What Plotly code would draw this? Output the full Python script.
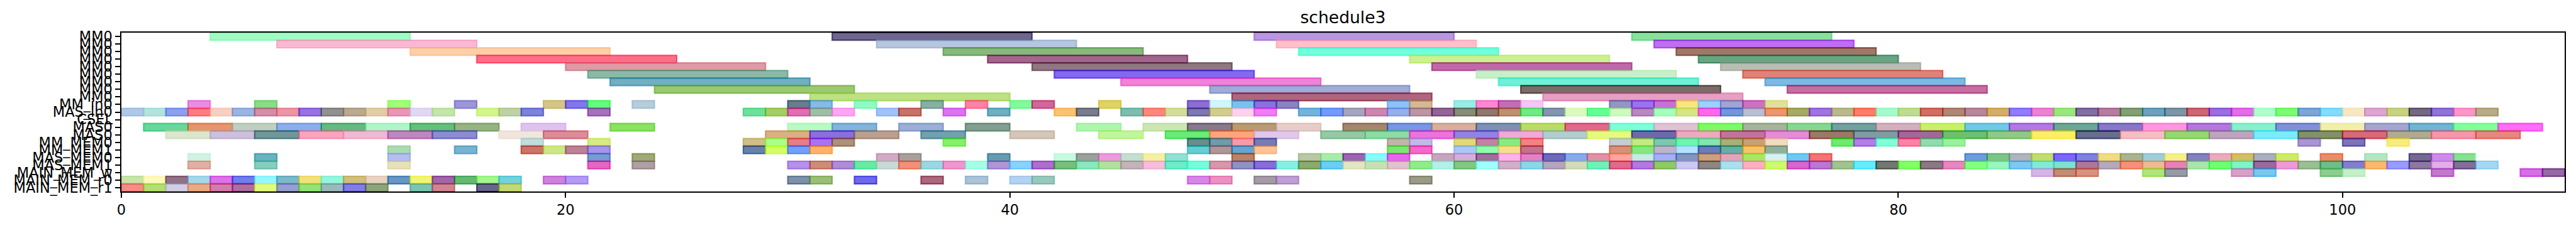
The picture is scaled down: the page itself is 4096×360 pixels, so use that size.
import plotly.graph_objects as go

TITLE = "schedule3"
ROW_LABELS = ["MM0"] * 9 + ["MM_in0", "MAS_in0", "CSEL", "MAS0", "MAS0", "MM_MEM0", "MM_MEM1",
                            "MAS_MEM0", "MAS_MEM1", "MAIN_MEM_w", "MAIN_MEM_r0", "MAIN_MEM_r1"]
X_TICKS = [0, 20, 40, 60, 80, 100]
X_MAX = 110
LONG_LEN = 9
MAS_LEN = 2
SLOT_LEN = 1

R0_START = [4, 32, 51, 68]
R0_COLOR = [(160,250,195),(110,100,140),(185,150,225),(135,225,155)]
R1_START = [7, 34, 52, 69]
R1_COLOR = [(250,185,210),(183,198,222),(255,192,203),(190,110,240)]
R2_START = [13, 37, 53, 70]
R2_COLOR = [(253,208,170),(135,185,125),(115,255,220),(160,120,105)]
R3_START = [16, 39, 58, 71]
R3_COLOR = [(255,110,135),(160,100,140),(205,240,145),(105,165,130)]
R4_START = [20, 41, 59, 72]
R4_COLOR = [(222,155,165),(143,120,130),(192,105,170),(185,190,180)]
R5_START = [21, 42, 61, 73]
R5_COLOR = [(140,185,165),(130,105,240),(200,240,200),(225,130,120)]
R6_START = [22, 45, 62, 74]
R6_COLOR = [(113,175,195),(240,130,215),(112,240,215),(125,185,225)]
R7_START = [24, 49, 63, 75]
R7_COLOR = [(155,200,115),(160,172,212),(122,108,105),(197,110,160)]
R8_START = [31, 50, 64]
R8_COLOR = [(190,225,130),(175,100,125),(230,160,195)]

R9_START = [3,6,12,15,19,20,21,23,30,31,33,36,38,40,41,44,48,49,50,51,52,57,58,60,61,62,63,67,68,69,70,71,72,73,74]
R9_COLOR = [(235,140,225),(138,220,135),(160,255,120),(155,150,215),(212,198,135),(130,118,235),(95,250,125),
            (182,205,218),(105,125,140),(135,185,235),(145,250,195),(135,175,165),(255,130,165),(130,250,155),
            (210,100,155),(225,210,100),(140,110,210),(210,245,250),(120,195,235),(135,115,220),(140,130,195),
            (140,195,245),(212,185,150),(155,235,230),(255,135,210),(195,110,180),(243,198,245),(145,150,195),
            (155,115,240),(195,115,210),(247,230,130),(155,210,250),(160,165,210),(205,115,190),(225,225,155)]

R10_START = [0,1,2,3,4,5,6,7,8,9,10,11,12,13,14,16,17,18,21,28,29,30,31,32,34,35,37,39,42,43,45,46,47,48,49,50,51,
             53,54,55,56,57,58,59,60,61,62,63,64,65,66,67,68,69,70,71,72,73,74,75,76,77,78,79,80,81,82,83,84,85,86,
             87,88,89,90,91,92,93,94,95,96,97,98,99,100,101,102,103,104,105,106]
R10_COLOR = [(175,200,230),(178,228,222),(140,160,240),(255,125,130),(248,208,195),(155,180,225),(215,140,170),
             (235,150,165),(150,115,225),(145,145,145),(185,170,145),(225,205,165),(235,150,185),(225,215,245),
             (195,230,170),(210,245,140),(190,210,165),(125,130,220),(170,110,190),(110,225,155),(165,205,100),
             (225,110,180),(160,190,165),(252,165,245),(160,195,250),(200,115,105),(220,115,240),(110,175,195),
             (250,195,115),(120,125,140),(125,190,175),(255,135,125),(212,220,155),(125,120,175),(210,205,140),
             (252,210,235),(240,125,245),(115,180,220),(115,155,250),(165,165,190),(205,135,175),(150,175,235),
             (185,150,165),(145,100,150),(135,140,120),(145,120,110),(190,145,115),(110,235,130),(130,150,175),
             (220,250,190),(100,255,145),(205,250,190),(185,135,195),(165,255,185),(212,230,135),(255,105,235),
             (115,150,220),(185,190,210),(235,150,110),(165,170,100),(160,115,225),(185,185,140),(255,125,105),
             (165,250,205),(190,220,145),(210,110,100),(175,135,115),(185,135,155),(210,175,100),(145,125,250),
             (235,130,210),(155,230,125),(130,110,160),(180,125,160),(130,160,115),(110,160,190),(125,150,165),
             (205,100,115),(155,110,225),(225,110,230),(175,255,205),(125,250,115),(125,165,215),(130,220,255),
             (245,232,195),(220,165,210),(200,210,130),(115,105,130),(145,115,215),(250,150,200),(183,172,135)]

R11_START = []
R11_COLOR = []

R12_START = [1,3,5,7,9,11,13,15,18,22,30,32,35,38,43,46,48,50,52,55,57,59,61,63,65,67,69,71,73,75,77,79,81,83,85,87,89,91,93,95,97,99,101,103,105,107]
R12_COLOR = [(105,215,155),(230,150,110),(192,208,190),(140,175,235),(100,185,130),(175,245,200),(100,190,125),
             (150,180,130),(222,195,240),(140,225,100),(185,250,195),(130,180,220),(155,175,215),(130,160,145),
             (175,245,175),(205,230,180),(135,120,140),(185,155,115),(230,205,200),(165,135,110),(120,150,225),
             (215,175,155),(125,145,180),(185,220,100),(225,105,140),(125,255,215),(222,195,210),(125,250,90),
             (165,180,155),(135,215,145),(115,160,160),(212,175,190),(200,240,105),(115,200,230),(180,120,225),
             (110,165,150),(135,120,200),(255,150,225),(180,120,220),(135,240,205),(130,145,215),(240,240,170),
             (165,165,210),(115,180,210),(130,255,155),(255,110,245)]

R13_START = [2,4,6,8,10,12,14,17,19,29,31,33,36,40,44,47,49,51,54,56,58,60,62,64,66,68,70,72,74,76,78,80,82,84,86,88,90,92,94,96,98,100,102,104,106]
R13_COLOR = [(220,230,205),(205,192,220),(115,150,155),(250,165,190),(240,185,210),(190,135,190),(140,140,210),
             (240,230,222),(220,140,150),(220,175,130),(140,110,220),(185,160,145),(115,160,175),(212,198,185),
             (195,245,155),(105,235,120),(255,165,125),(225,200,235),(150,200,165),(140,220,165),(235,115,220),
             (145,130,230),(240,170,215),(178,205,205),(230,250,130),(110,105,170),(235,170,190),(195,115,155),
             (230,140,215),(155,120,105),(130,155,160),(160,105,150),(110,190,115),(145,200,135),(250,240,100),
             (105,110,140),(245,190,195),(150,215,115),(190,165,190),(125,235,250),(130,145,105),(215,105,120),
             (175,170,145),(245,150,170),(230,135,130)]

R14_START = [18,21,28,29,30,31,32,37,48,49,50,51,57,58,60,61,62,63,67,68,69,70,71,72,73,74,77,78,79,80,81,82,98,100,102]
R14_COLOR = [(192,220,220),(215,235,130),(210,190,135),(170,255,140),(230,125,135),(170,115,240),(175,145,120),
             (135,240,105),(105,140,140),(110,155,175),(245,155,170),(115,125,180),(195,180,170),(195,185,230),
             (225,218,120),(195,130,160),(135,235,130),(245,130,130),(195,205,210),(195,235,130),(125,200,175),
             (110,245,175),(130,230,175),(170,175,120),(200,160,115),(240,220,190),(110,235,110),(180,125,230),
             (130,255,215),(255,130,165),(145,220,175),(155,240,155),(170,150,210),(125,115,185),(250,235,125)]

R15_START = [12,15,18,19,20,21,28,29,30,31,48,49,50,51,57,58,60,61,62,63,67,68,69,70,71,72,73,74]
R15_COLOR = [(170,220,180),(120,180,210),(205,115,105),(205,230,135),(190,130,150),(165,150,235),(100,130,170),
             (210,255,90),(115,160,250),(255,180,105),(95,205,210),(175,150,150),(100,165,205),(255,195,150),
             (125,230,115),(245,105,200),(170,200,245),(145,250,175),(245,222,145),(195,115,140),(215,145,120),
             (135,230,130),(190,180,200),(180,225,255),(105,125,185),(100,175,165),(245,195,110),(145,175,155)]

R16_START = [3,6,12,21,23,34,35,39,42,43,44,45,46,47,50,53,54,55,56,57,59,60,61,62,63,64,65,66,67,68,69,70,71,72,73,74,75,76,
             83,84,85,86,87,88,89,90,91,92,93,94,95,96,97,99,101,103,104,105,106]
R16_COLOR = [(210,243,225),(105,180,190),(180,190,240),(120,155,210),(160,170,120),(210,170,195),(170,160,155),
             (105,155,175),(200,250,225),(155,160,155),(235,155,220),(195,222,210),(245,240,165),(145,225,210),
             (185,130,105),(185,200,165),(170,235,170),(155,100,175),(135,250,250),(230,100,235),(200,165,190),
             (212,175,220),(160,110,155),(250,180,235),(225,130,195),(110,105,185),(135,170,235),(225,145,165),
             (255,165,155),(200,235,225),(165,175,245),(130,150,190),(205,160,125),(225,165,185),(170,230,100),
             (215,240,240),(110,200,240),(245,115,115),(110,155,220),(125,195,135),(175,180,190),(195,220,110),
             (125,100,250),(125,130,225),(240,220,130),(170,180,145),(160,205,215),(245,240,140),(130,130,190),
             (235,170,190),(210,190,100),(170,175,190),(205,235,100),(235,140,105),(180,230,195),(115,105,145),
             (205,140,235),(135,225,145),(252,254,252)]

R17_START = [3,6,12,21,23,30,31,32,33,34,35,36,37,38,39,40,41,42,43,44,45,46,47,48,49,50,51,52,53,54,55,56,57,58,59,60,61,62,
             63,64,65,66,67,68,69,70,71,72,73,74,75,76,77,78,79,80,81,82,83,84,85,86,87,88,89,90,91,92,93,94,95,96,97,98,99,
             100,101,102,103,104,105,106]
R17_COLOR = [(225,175,165),(135,205,190),(230,225,185),(230,100,195),(175,160,165),(180,145,235),(205,140,120),
             (175,140,215),(105,235,165),(200,218,212),(240,145,120),(155,215,225),(240,150,205),(165,255,230),
             (175,150,215),(135,210,255),(175,110,205),(120,190,125),(140,230,190),(175,225,160),(195,180,185),
             (245,190,220),(110,235,200),(115,255,220),(215,150,170),(145,145,195),(135,110,215),(135,240,225),
             (140,170,110),(110,205,245),(225,230,195),(200,225,180),(225,195,205),(145,235,140),(180,240,230),
             (130,200,130),(160,255,250),(210,175,200),(140,215,230),(180,165,190),(210,220,185),(115,240,185),
             (225,105,140),(180,120,225),(145,200,105),(205,200,240),(140,135,130),(170,225,235),(250,175,195),
             (205,250,110),(215,100,205),(185,120,210),(160,195,145),(95,235,255),(115,120,115),(130,255,105),
             (140,120,130),(230,135,190),(135,255,130),(155,245,190),(125,200,245),(130,235,215),(125,225,210),
             (175,120,155),(180,170,185),(245,145,120),(240,185,145),(230,130,180),(170,230,170),(110,255,115),
             (125,245,200),(155,105,155),(235,155,215),(155,190,150),(110,190,140),(130,125,210),(250,185,115),
             (155,155,255),(140,120,160),(225,175,230),(130,110,155),(165,215,245)]

R18_START = [86,87,88,91,92,95,96,99,100,104,108,109]
R18_COLOR = [(215,180,230),(195,140,115),(220,145,125),(175,230,120),(150,155,165),(215,160,200),(120,200,240),
             (140,205,145),(195,240,200),(195,120,205),(215,110,230),(150,105,165)]

R19_START = [0,1,2,3,4,5,6,7,8,9,10,11,12,13,14,15,16,17,19,20,30,31,33,36,38,40,41,48,49,51,52,58]
R19_COLOR = [(200,228,170),(255,248,190),(145,115,135),(165,215,235),(220,115,230),(115,125,235),(150,245,255),
             (125,185,200),(240,225,125),(150,245,220),(210,190,125),(232,210,195),(105,150,195),(240,245,115),
             (160,100,170),(100,185,115),(165,245,145),(115,210,220),(205,130,220),(180,155,245),(125,145,170),
             (155,190,120),(110,105,235),(170,105,125),(170,195,215),(180,210,240),(155,200,190),(215,135,230),
             (235,145,195),(165,155,165),(190,160,210),(155,155,135)]

R20_START = [0,1,2,3,4,5,6,7,8,9,10,11,13,14,16,17]
R20_COLOR = [(245,140,135),(178,222,115),(208,205,228),(232,170,135),(210,125,170),(175,110,160),(225,250,130),
             (150,160,205),(150,225,120),(155,185,185),(130,125,225),(140,165,125),(125,195,175),(205,135,145),
             (105,100,140),(195,215,120)]

ROWS = [R0_START, R1_START, R2_START, R3_START, R4_START, R5_START, R6_START, R7_START, R8_START, R9_START,
        R10_START, R11_START, R12_START, R13_START, R14_START, R15_START, R16_START, R17_START, R18_START,
        R19_START, R20_START]
COLORS = [R0_COLOR, R1_COLOR, R2_COLOR, R3_COLOR, R4_COLOR, R5_COLOR, R6_COLOR, R7_COLOR, R8_COLOR, R9_COLOR,
          R10_COLOR, R11_COLOR, R12_COLOR, R13_COLOR, R14_COLOR, R15_COLOR, R16_COLOR, R17_COLOR, R18_COLOR,
          R19_COLOR, R20_COLOR]
LENGTHS = [LONG_LEN] * 9 + [SLOT_LEN] * 3 + [MAS_LEN] * 2 + [SLOT_LEN] * 7

ALPHA = 0.6
W, H = 4096, 360
FONT = "DejaVu Sans"


def rgba(visible):
    # colours above were read as seen on white: undo the blend to get the translucent source colour
    ch = [max(0, min(255, round((v - 255 * (1 - ALPHA)) / ALPHA))) for v in visible]
    return f"rgba({ch[0]},{ch[1]},{ch[2]},{ALPHA})"


fig = go.Figure()
for i, (starts, cols, length) in enumerate(zip(ROWS, COLORS, LENGTHS)):
    if not starts:
        continue
    c = [rgba(v) for v in cols]
    fig.add_trace(go.Bar(
        orientation="h",
        y=[i] * len(starts),
        x=[length] * len(starts),
        base=starts,
        width=1,
        marker=dict(color=c, line=dict(color=c, width=2.2)),
        showlegend=False,
        hoverinfo="skip",
    ))

fig.update_layout(
    width=W, height=H, autosize=False,
    barmode="overlay",
    paper_bgcolor="white", plot_bgcolor="white",
    margin=dict(l=192.6, r=18, t=51.5, b=55.3, pad=0),
    font=dict(family=FONT, color="black", size=22.5),
    title=dict(text=TITLE, font=dict(family=FONT, size=26.6, color="black"),
               x=0.5, xref="paper", xanchor="center",
               y=1 - 37 / H, yref="container", yanchor="bottom", pad=dict(b=0, t=0, l=0, r=0)),
    xaxis=dict(range=[0, X_MAX], tickmode="array", tickvals=X_TICKS, ticktext=[str(t) for t in X_TICKS],
               showgrid=False, zeroline=False, showline=True, mirror=True, linecolor="black", linewidth=1.75,
               ticks="outside", ticklen=7.7, tickwidth=1.75, tickcolor="black",
               tickfont=dict(family=FONT, size=22.5, color="black")),
    yaxis=dict(range=[20.5, -0.5], tickmode="array", tickvals=list(range(len(ROW_LABELS))), ticktext=ROW_LABELS,
               showgrid=False, zeroline=False, showline=True, mirror=True, linecolor="black", linewidth=1.75,
               ticks="outside", ticklen=7.7, tickwidth=1.75, tickcolor="black",
               tickfont=dict(family=FONT, size=22.5, color="black")),
)

fig.write_html("out.html", config=dict(displayModeBar=False),
               post_script="document.body.style.margin='0';document.body.style.overflow='hidden';")
